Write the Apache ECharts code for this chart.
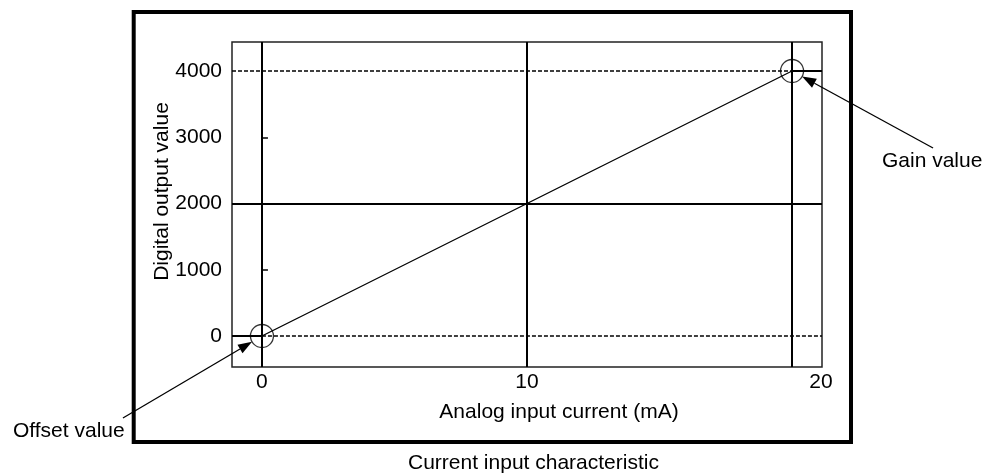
<!DOCTYPE html>
<html><head><meta charset="utf-8">
<script src="https://cdn.jsdelivr.net/npm/echarts@6/dist/echarts.min.js"></script>
<style>html,body{margin:0;padding:0;background:#fff}#c{width:992px;height:473px}</style>
</head><body><div id="c"></div>
<script>
// ---- data ----
const currentMA = [0, 20];            // analog input current (mA)
const digitalOutput = [0, 4000];      // digital output value
const xTickValues = [0, 10, 20];
const yTickValues = [0, 1000, 2000, 3000, 4000];
const yMinorTicks = [1000, 3000];
const xGuideValues = [0, 10, 20];
const yGuideValues = [2000];
const pointNames = ['Offset value', 'Gain value'];
const X_MIN = -1.13, X_MAX = 21.13, Y_MIN = -468, Y_MAX = 4438;

const FONT = "'Liberation Sans', Arial, Helvetica, sans-serif";
const INK = '#000';
const chart = echarts.init(document.getElementById('c'), null, {renderer: 'canvas'});
const points = currentMA.map((x, i) => [x, digitalOutput[i]]);
const offsetPt = points[0], gainPt = points[points.length - 1];

const solid = {type: 'solid', color: INK, width: 2};
const dashed = {type: [4, 2], color: INK, width: 1.5};

const markData = [];
xGuideValues.forEach(v => markData.push({xAxis: v, lineStyle: solid}));
yGuideValues.forEach(v => markData.push({yAxis: v, lineStyle: solid}));
markData.push([{coord: [X_MIN, offsetPt[1]], lineStyle: solid}, {coord: [offsetPt[0], offsetPt[1]]}]);
markData.push([{coord: [offsetPt[0], offsetPt[1]], lineStyle: dashed}, {coord: [X_MAX, offsetPt[1]]}]);
markData.push([{coord: [X_MIN, gainPt[1]], lineStyle: dashed}, {coord: [gainPt[0], gainPt[1]]}]);
markData.push([{coord: [gainPt[0], gainPt[1]], lineStyle: solid}, {coord: [X_MAX, gainPt[1]]}]);

const option = {
  backgroundColor: '#fff',
  animation: false,
  title: {
    text: 'Current input characteristic',
    left: 408, top: 453, padding: 0,
    textStyle: {fontFamily: FONT, fontSize: 21, fontWeight: 'normal', color: INK}
  },
  grid: {left: 232, top: 42, width: 590, height: 325, show: true, borderColor: '#222', borderWidth: 1.5, containLabel: false},
  xAxis: {
    type: 'value', min: X_MIN, max: X_MAX,
    name: 'Analog input current (mA)', nameLocation: 'middle', nameGap: 35, nameMoveOverlap: false,
    nameTextStyle: {fontFamily: FONT, fontSize: 21, color: INK, padding: [0, 0, 0, 64]},
    axisLine: {show: false}, axisTick: {show: false}, splitLine: {show: false},
    axisLabel: {
      customValues: xTickValues, margin: 5,
      fontFamily: FONT, fontSize: 21, color: INK,
      formatter: v => v === xTickValues[xTickValues.length - 1] ? '{shift|' + v + '}' : String(v),
      rich: {shift: {fontFamily: FONT, fontSize: 21, color: INK, padding: [0, 0, 0, 58]}}
    }
  },
  yAxis: {
    type: 'value', min: Y_MIN, max: Y_MAX,
    name: 'Digital output value', nameLocation: 'middle', nameGap: 59, nameMoveOverlap: false,
    nameTextStyle: {fontFamily: FONT, fontSize: 21, color: INK, padding: [0, 0, 0, 26]},
    axisLine: {show: false}, splitLine: {show: false},
    axisTick: {show: true, inside: true, length: 6, customValues: yMinorTicks, lineStyle: {color: INK, width: 1.5}},
    axisLabel: {customValues: yTickValues, margin: 10, fontFamily: FONT, fontSize: 21, color: INK,
      formatter: v => String(v)}
  },
  series: [
    {
      type: 'line', data: points, symbol: 'none', silent: true,
      lineStyle: {color: INK, width: 1.3}, z: 3,
      markLine: {silent: true, symbol: ['none', 'none'], label: {show: false}, data: markData, z: 2}
    },
    {
      type: 'scatter', data: points, symbol: 'circle', symbolSize: 23, silent: true, z: 4,
      itemStyle: {color: 'rgba(0,0,0,0)', borderColor: INK, borderWidth: 1.3}
    }
  ]
};
chart.setOption(option);

// ---- annotations (arrows pointing at the offset / gain points) ----
const R = 11.5;
const p0 = chart.convertToPixel({gridIndex: 0}, offsetPt);
const p1 = chart.convertToPixel({gridIndex: 0}, gainPt);
const annots = [
  {center: p0, tail: [p0[0] - 139, p0[1] + 82], text: pointNames[0], tx: 13, ty: 431},
  {center: p1, tail: [p1[0] + 141, p1[1] + 77], text: pointNames[1], tx: 882, ty: 161}
];
const graphics = [{
  type: 'rect', shape: {x: 133.7, y: 12, width: 717.3, height: 430},
  style: {fill: null, stroke: INK, lineWidth: 4}, z: 10, silent: true
}];
annots.forEach(a => {
  const dx = a.tail[0] - a.center[0], dy = a.tail[1] - a.center[1];
  const L = Math.hypot(dx, dy), ux = dx / L, uy = dy / L;
  const tip = [a.center[0] + ux * R, a.center[1] + uy * R];
  const base = [tip[0] + ux * 14, tip[1] + uy * 14];
  const px = -uy, py = ux;
  graphics.push({type: 'line', shape: {x1: a.tail[0], y1: a.tail[1], x2: base[0], y2: base[1]},
    style: {stroke: INK, lineWidth: 1.3}, z: 11, silent: true});
  graphics.push({type: 'polygon', shape: {points: [tip, [base[0] + px * 5, base[1] + py * 5], [base[0] - px * 5, base[1] - py * 5]]},
    style: {fill: INK}, z: 11, silent: true});
  graphics.push({type: 'text', x: a.tx, y: a.ty,
    style: {text: a.text, font: '21px ' + FONT, fill: INK, textAlign: 'left', textVerticalAlign: 'middle'}, z: 12, silent: true});
});
chart.setOption({graphic: graphics});
</script>
</body></html>
